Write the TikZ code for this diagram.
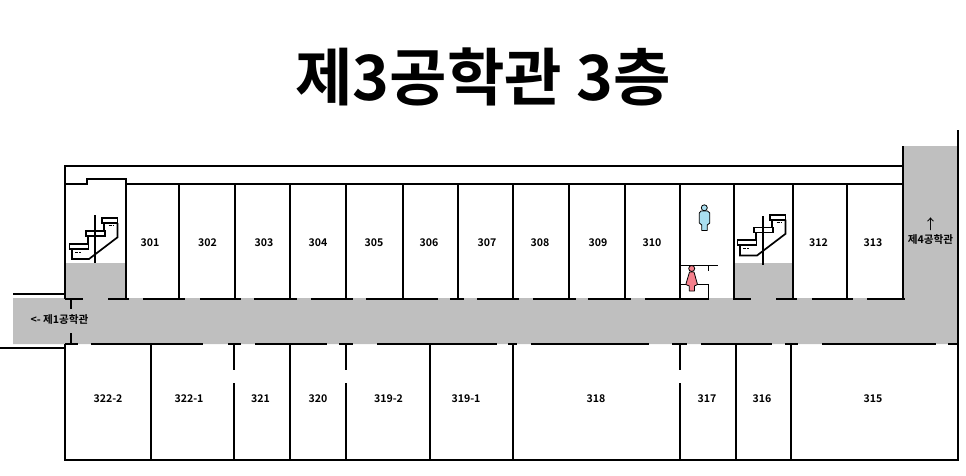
\documentclass[tikz,border=0pt]{standalone}
\usepackage{fontspec}
\newfontfamily\krfont{Noto Sans CJK KR}
\newfontfamily\krbold{Noto Sans CJK KR Bold}
\newfontfamily\krmed{Noto Sans CJK KR Medium}
\definecolor{hallgray}{HTML}{BFBFBF}
\definecolor{mancol}{HTML}{A9DFF0}
\definecolor{womancol}{HTML}{F5808C}
\tikzset{
    wall/.style={line width=2pt,black},
    thinwall/.style={line width=1.7pt,black},
    hall/.style={fill=hallgray,draw=none},
    room/.style={font=\krbold\fontsize{10.6}{12}\selectfont,inner sep=0pt},
    man/.style={fill=mancol,draw=black,line width=0.8pt,line join=round},
    woman/.style={fill=womancol,draw=black,line width=0.8pt,line join=round} }

\newcommand{\stairs}{
    \draw [thinwall] (69.5,243.8) rectangle (88.5,248.8); \draw [thinwall] (86,231) rectangle (105.3,236);
    \draw [thinwall] (102.3,218.2) rectangle (117.5,223.2);
    \draw [thinwall] (88,243.8) -- (88,236); \draw [thinwall] (103.8,231) -- (103.8,223.2);
    \draw [thinwall] (117.5,223.2) -- (117.5,237.3) -- (89,259) -- (72,259) -- (72,248.8);
    \draw [line width=1pt,dash pattern=on 3pt off 1pt on 1.5pt off 9pt] (75.3,252.3) -- (81,252.3);
    \draw [line width=1pt,dash pattern=on 3pt off 1pt on 1.5pt off 9pt] (108.7,225.7) -- (114,225.7);
}

\begin{document}
\begin{tikzpicture}[x=1pt,y=-1pt]
  \useasboundingbox (0,0) rectangle (966,475);

  \draw (483,77) node (title) {\krbold\fontsize{62.5}{70}\selectfont 제3공학관 3층};

% gray parts
  \fill [hall] (13,298) -- (903,298) -- (903,146) -- (957.5,146) -- (957.5,344) -- (13,344) -- cycle;
  \fill [hall] (65,263) rectangle (125.5,298);
  \fill [hall] (733.5,263) rectangle (793,298);

% outer walls
  \draw [wall] (65,298.5) -- (65,165.5) -- (903,165.5); \draw [wall] (903,146) -- (903,298.5);
  \draw [wall] (958,130) -- (958,460) -- (65,460) -- (65,344);
  \draw [wall] (13,293.5) -- (65,293.5); \draw [wall] (0,347.5) -- (65,347.5);
  \draw [wall] (70.5,298) -- (70.5,309); \draw [wall] (70.5,333) -- (70.5,344);
  \draw [wall] (65,184) -- (86.5,184) -- (86.5,179) -- (125.5,179) -- (125.5,298);
  \draw [wall] (125.5,184) -- (903,184);

% corridor, north side
  \draw [wall] (65,298.5) -- (83,298.5);   \draw [wall] (108,298.5) -- (129,298.5); \draw [wall] (143,298.5) -- (185,298.5);
  \draw [wall] (200,298.5) -- (241,298.5); \draw [wall] (254,298.5) -- (297,298.5); \draw [wall] (311,298.5) -- (353,298.5);
  \draw [wall] (366,298.5) -- (438,298.5); \draw [wall] (450,298.5) -- (464,298.5); \draw [wall] (477,298.5) -- (519,298.5);
  \draw [wall] (533,298.5) -- (576,298.5); \draw [wall] (588,298.5) -- (631,298.5); \draw [wall] (645,298.5) -- (709,298.5);
  \draw [wall] (733,298.5) -- (751,298.5); \draw [wall] (776,298.5) -- (797,298.5); \draw [wall] (812,298.5) -- (853,298.5);
  \draw [wall] (867,298.5) -- (905,298.5);

% corridor, south side
  \draw [wall] (65,344) -- (78,344);       \draw [wall] (91,344) -- (203,344);      \draw [wall] (228,344) -- (241,344);
  \draw [wall] (255,344) -- (327,344);     \draw [wall] (339,344) -- (353,344);     \draw [wall] (377,344) -- (497,344);
  \draw [wall] (508,344) -- (517,344);     \draw [wall] (531,344) -- (649,344);     \draw [wall] (672,344) -- (687,344);
  \draw [wall] (701,344) -- (772,344);     \draw [wall] (785,344) -- (798,344);     \draw [wall] (822,344) -- (936,344);
  \draw [wall] (948,344) -- (958,344);

% north rooms
  \draw [wall] (179,184) -- (179,298);     \draw [wall] (234.5,184) -- (234.5,298); \draw [wall] (290,184) -- (290,298);
  \draw [wall] (346,184) -- (346,298);     \draw [wall] (403,184) -- (403,298);     \draw [wall] (458,184) -- (458,298);
  \draw [wall] (513,184) -- (513,298);     \draw [wall] (569,184) -- (569,298);     \draw [wall] (625,184) -- (625,298);
  \draw [wall] (680,184) -- (680,298);     \draw [wall] (733.5,184) -- (733.5,298); \draw [wall] (793,184) -- (793,298);
  \draw [wall] (847,184) -- (847,298);

% south rooms
  \draw [wall] (150.5,344) -- (150.5,460); \draw [wall] (290,344) -- (290,460);     \draw [wall] (429.5,344) -- (429.5,460);
  \draw [wall] (513,344) -- (513,460);     \draw [wall] (736,344) -- (736,460);     \draw [wall] (791,344) -- (791,460);
  \draw [wall] (234,344) -- (234,370);     \draw [wall] (234,383) -- (234,460);
  \draw [wall] (346,344) -- (346,370);     \draw [wall] (346,383) -- (346,460);
  \draw [wall] (680,344) -- (680,370);     \draw [wall] (680,383) -- (680,460);

% stairs
  \stairs \draw [thinwall] (95.3,215) -- (95.3,263);
  \begin{scope}[shift={(668pt,3.5pt)}] \stairs \end{scope}
  \draw [thinwall] (763.3,216) -- (763.3,265);

% toilets
  \draw [thinwall] (680,265.5) -- (718,265.5); \draw [thinwall] (708.5,265.5) -- (708.5,271);
  \draw [thinwall] (680,284.5) -- (708.5,284.5) -- (708.5,298);
  \draw [man] (704.3,207.8) circle (3);
  \draw [man] (701,211) -- (707.5,211) -- (709.8,213) -- (709.8,223) -- (707.2,225) -- (707.2,230.5) -- (701.8,230.5) -- (701.8,225) -- (699.3,223) -- (699.3,213) -- cycle;
  \draw [woman] (691.7,268.5) circle (3);
  \draw [woman] (689.5,272) -- (694,272) -- (697.5,284.5) -- (694.4,286) -- (694.4,291) -- (689.3,291) -- (689.3,286) -- (685.8,284.5) -- cycle;

% labels
  \draw (150,243) node [room] (r301) {301};   \draw (207.5,243) node [room] (r302) {302};
  \draw (264,243) node [room] (r303) {303};   \draw (318,243) node [room] (r304) {304};
  \draw (374,243) node [room] (r305) {305};   \draw (429,243) node [room] (r306) {306};
  \draw (487,243) node [room] (r307) {307};   \draw (540,243) node [room] (r308) {308};
  \draw (598,243) node [room] (r309) {309};   \draw (652,243) node [room] (r310) {310};
  \draw (818.5,243) node [room] (r312) {312}; \draw (873,243) node [room] (r313) {313};
  \draw (108,399) node [room] (r3222) {322-2}; \draw (189,399) node [room] (r3221) {322-1};
  \draw (260.5,399) node [room] (r321) {321};  \draw (318,399) node [room] (r320) {320};
  \draw (388.5,399) node [room] (r3192) {319-2}; \draw (466,399) node [room] (r3191) {319-1};
  \draw (596,399) node [room] (r318) {318};    \draw (707,399) node [room] (r317) {317};
  \draw (762,399) node [room] (r316) {316};    \draw (873,399) node [room] (r315) {315};
  \draw (59.5,319) node [room] (west) {<- 제1공학관};
  \draw (930.5,239) node [room] (east) {제4공학관};
  \draw (930.5,224) node [room,font=\krfont\fontsize{14}{14}\selectfont] (eastarrow) {↑};
\end{tikzpicture}
\end{document}
